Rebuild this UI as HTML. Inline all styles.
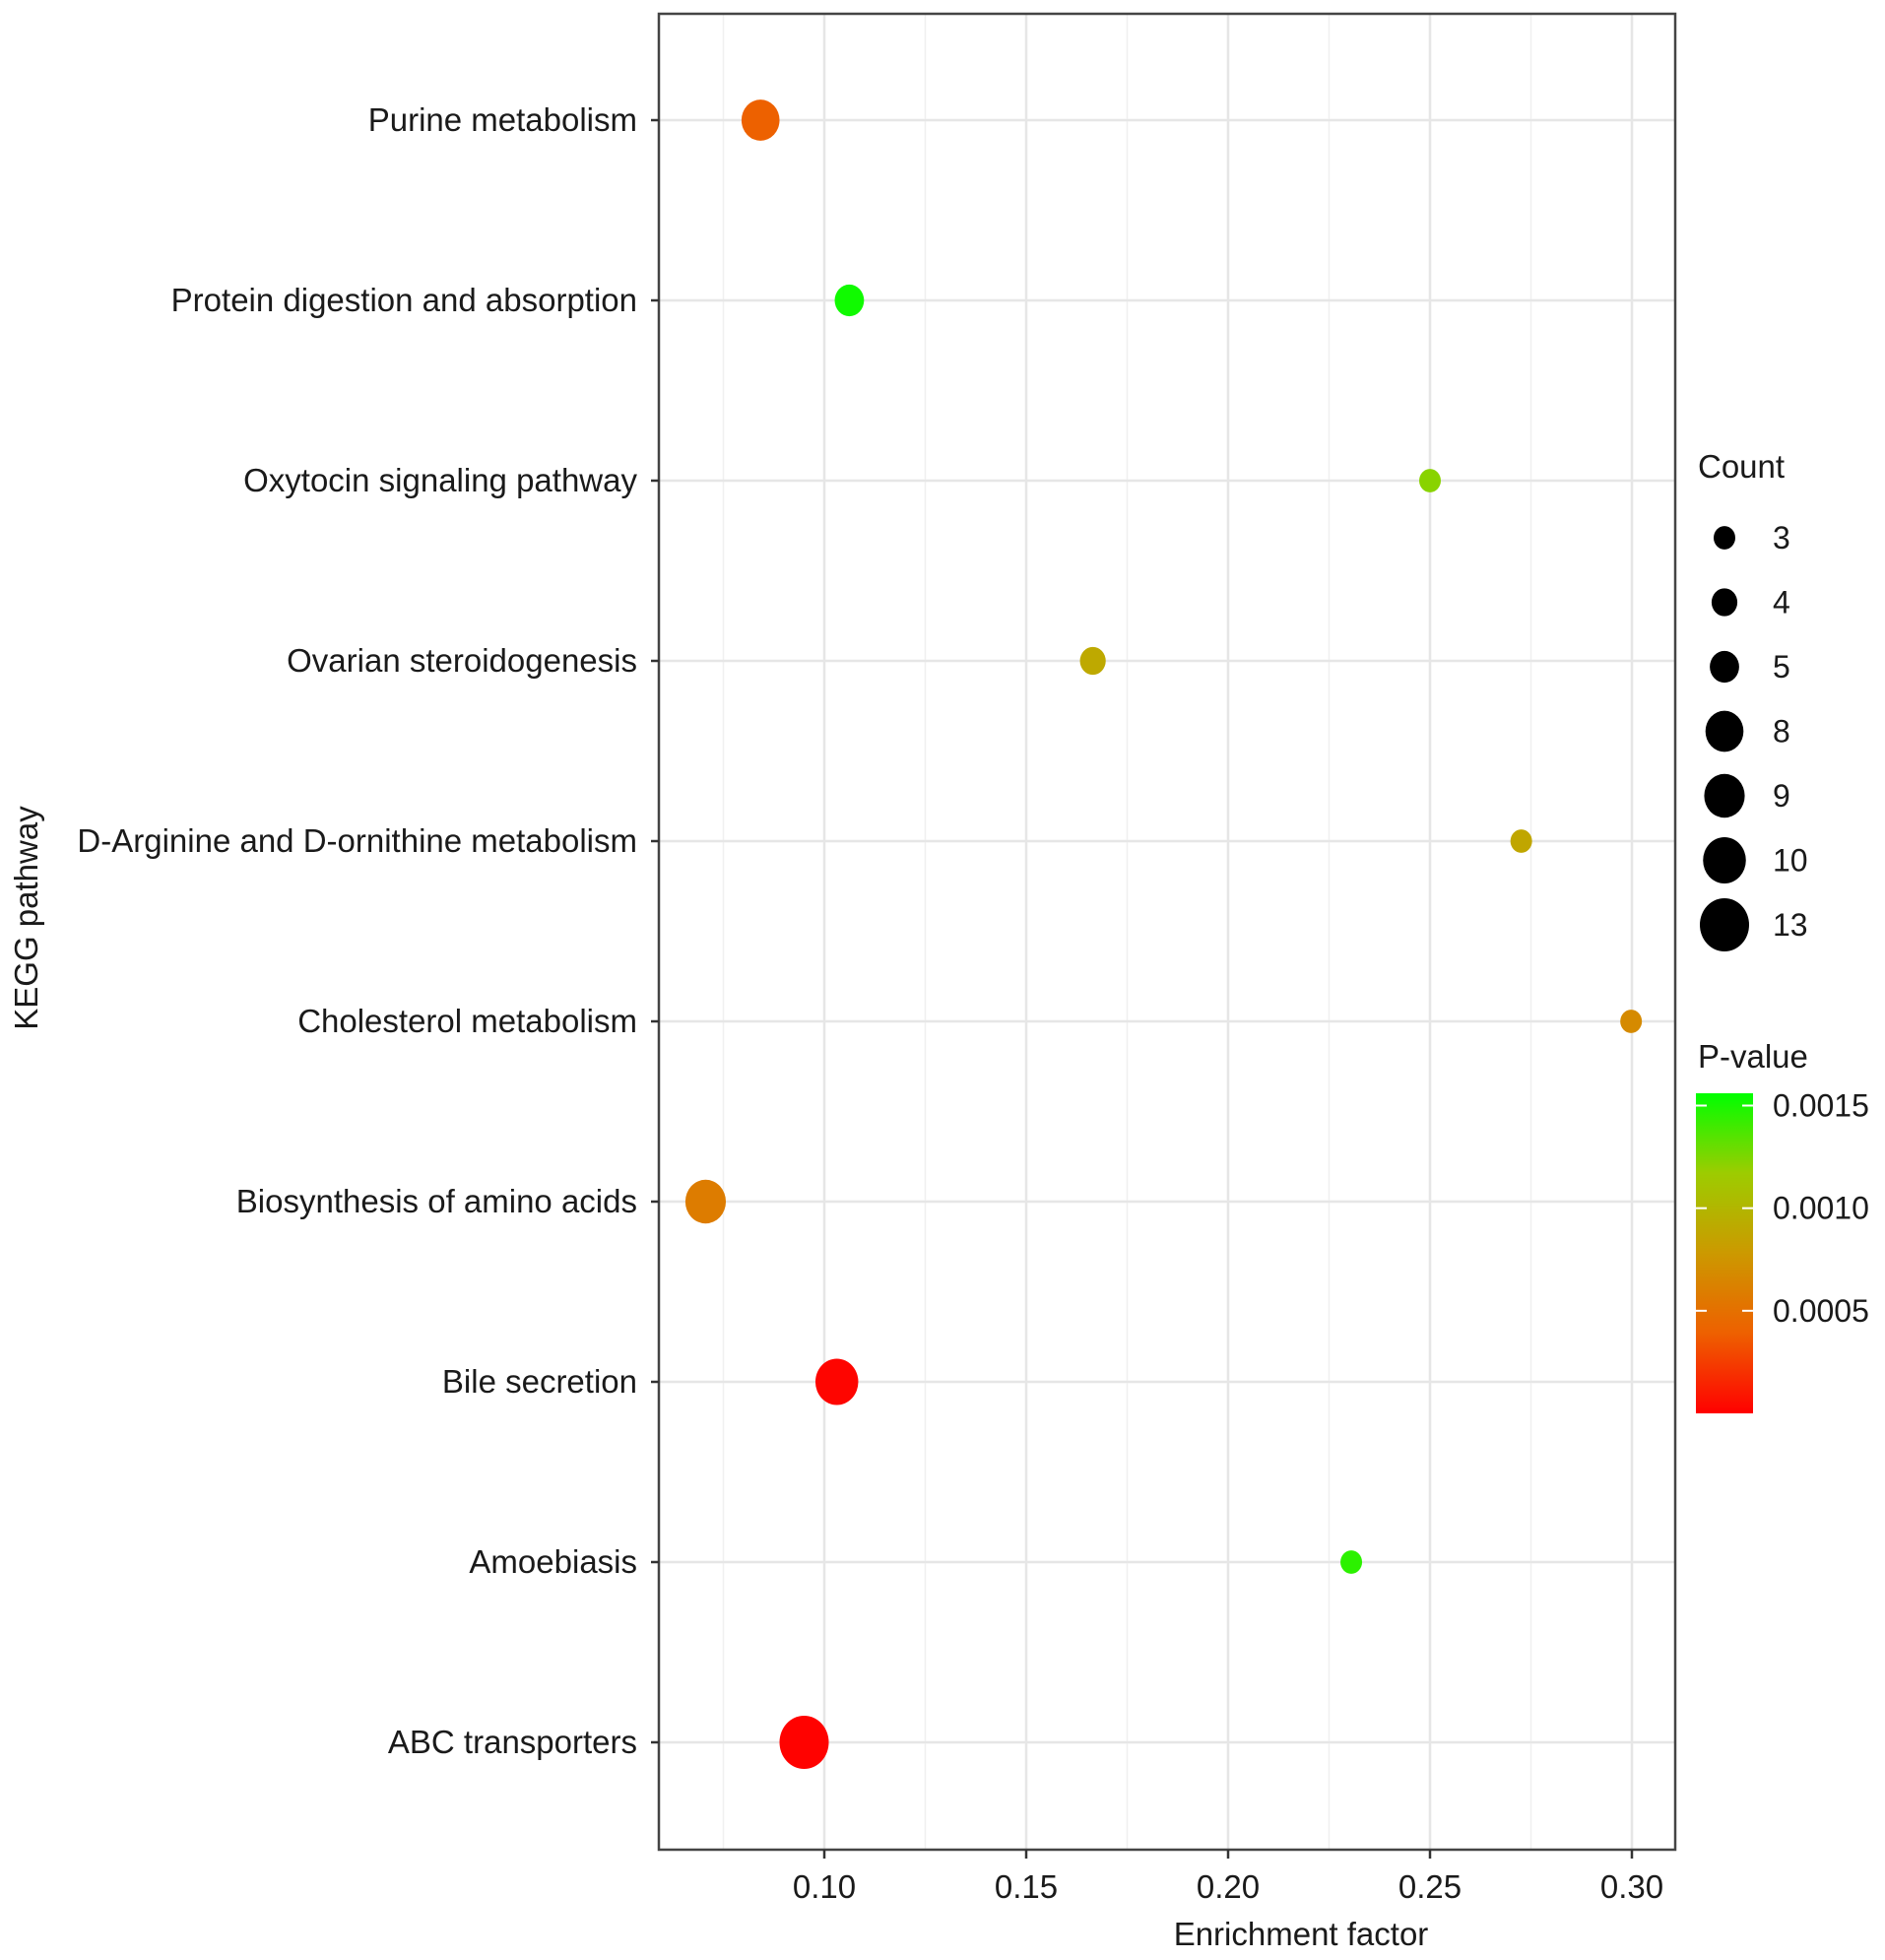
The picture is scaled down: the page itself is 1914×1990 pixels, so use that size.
<!DOCTYPE html>
<html><head><meta charset="utf-8"><style>
html,body{margin:0;padding:0;background:#fff;}
svg{display:block;font-family:"Liberation Sans",sans-serif;}
</style></head><body>
<svg id="chart" width="1914" height="1990" viewBox="0 0 1914 1990">
<defs>
<linearGradient id="pgrad" x1="0" y1="1" x2="0" y2="0">
<stop offset="0" stop-color="#ff0000"/><stop offset="0.25" stop-color="#ee6000"/><stop offset="0.5" stop-color="#cc9900"/><stop offset="0.75" stop-color="#9dcc00"/><stop offset="1" stop-color="#00ff00"/>
</linearGradient>
</defs>
<g id="grid"></g>
<g id="marks"></g>
<g id="axes"></g>
<g id="legend"></g>
</svg>
<script>
const pathways = ["Purine metabolism","Protein digestion and absorption","Oxytocin signaling pathway","Ovarian steroidogenesis","D-Arginine and D-ornithine metabolism","Cholesterol metabolism","Biosynthesis of amino acids","Bile secretion","Amoebiasis","ABC transporters"];
const enrichment = [0.0842,0.1062,0.250,0.1665,0.2726,0.2998,0.0706,0.1031,0.2305,0.0950];
const counts = [8,5,3,4,3,3,9,10,3,13];
const pvalues = [0.00040,0.00152,0.00122,0.00090,0.00088,0.00068,0.00058,0.00002,0.00145,0.00001];
const xTicks = [0.10,0.15,0.20,0.25,0.30];
const xTickLabels = ["0.10","0.15","0.20","0.25","0.30"];
const sizeLegend = [3,4,5,8,9,10,13];
const pTicks = [0.0015,0.0010,0.0005];
const pTickLabels = ["0.0015","0.0010","0.0005"];

const NS="http://www.w3.org/2000/svg";
const L=669,R=1701,T=14,B=1878;
const x=v=>837+(v-0.10)*4100;
const y=i=>122+i*183;
const rad=c=>Math.sqrt(11*11+(c-3)/10*(25*25-11*11));
const pY=p=>1435-(p/0.00156)*325;
const stops=[[0,[255,0,0]],[0.25,[238,96,0]],[0.5,[204,153,0]],[0.75,[157,204,0]],[1,[0,255,0]]];
function col(p){let t=Math.max(0,Math.min(1,p/0.00156));for(let i=1;i<stops.length;i++){if(t<=stops[i][0]){const a=stops[i-1],b=stops[i];const f=(t-a[0])/(b[0]-a[0]);return "rgb("+a[1].map((v,k)=>Math.round(v+(b[1][k]-v)*f)).join(",")+")";}}return "rgb(0,255,0)";}
function mk(tag,attrs,parent,text){const e=document.createElementNS(NS,tag);for(const k in attrs)e.setAttribute(k,attrs[k]);if(text!==undefined)e.textContent=text;parent.appendChild(e);return e;}
const grid=document.getElementById('grid'),marks=document.getElementById('marks'),axes=document.getElementById('axes'),legend=document.getElementById('legend');
mk('rect',{x:L,y:T,width:R-L,height:B-T,fill:'#fff'},grid);
for(let v=0.075;v<0.31;v+=0.05){const g=mk('line',{x1:x(v),x2:x(v),y1:T,y2:B,stroke:'#f0f0f0','stroke-width':1.5},grid);

}
xTicks.forEach(v=>{const g=mk('line',{x1:x(v),x2:x(v),y1:T,y2:B,stroke:'#e6e6e6','stroke-width':2.5},grid);

});
pathways.forEach((p,i)=>{const g=mk('line',{x1:L,x2:R,y1:y(i),y2:y(i),stroke:'#e6e6e6','stroke-width':2.5},grid);

});
pathways.forEach((p,i)=>{const r=rad(counts[i]);
const c=mk('ellipse',{cx:x(enrichment[i]),cy:y(i),rx:r,ry:r*1.08,fill:col(pvalues[i])},marks);

});
const frame=mk('rect',{x:L,y:T,width:R-L,height:B-T,fill:'none',stroke:'#444','stroke-width':2.5},axes);


pathways.forEach((p,i)=>{mk('line',{x1:661,x2:L,y1:y(i),y2:y(i),stroke:'#333','stroke-width':2.5},axes);
const t=mk('text',{x:647,y:y(i)+11,'text-anchor':'end','font-size':33,fill:'#1a1a1a'},axes,p);

});
xTicks.forEach((v,i)=>{mk('line',{x1:x(v),x2:x(v),y1:B,y2:B+9,stroke:'#333','stroke-width':2.5},axes);
const t=mk('text',{x:x(v),y:1927,'text-anchor':'middle','font-size':33,fill:'#1a1a1a'},axes,xTickLabels[i]);

});
const xt=mk('text',{x:1321,y:1975,'text-anchor':'middle','font-size':33,fill:'#1a1a1a'},axes,'Enrichment factor');


const yt=mk('text',{x:0,y:0,'text-anchor':'middle','font-size':33,fill:'#1a1a1a',transform:'translate(38,932) rotate(-90)'},axes,'KEGG pathway');


const ct=mk('text',{x:1724,y:485,'font-size':33,fill:'#1a1a1a'},legend,'Count');


sizeLegend.forEach((c,i)=>{const cy=546+i*65.5;const r=rad(c);
const d=mk('ellipse',{cx:1751,cy:cy,rx:r,ry:r*1.08,fill:'#000'},legend);


const t=mk('text',{x:1800,y:cy+11,'font-size':32,fill:'#1a1a1a'},legend,String(c));

});
const pt=mk('text',{x:1724,y:1084,'font-size':33,fill:'#1a1a1a'},legend,'P-value');


const bar=mk('rect',{x:1722,y:1110,width:58,height:325,fill:'url(#pgrad)'},legend);


pTicks.forEach((p,i)=>{mk('line',{x1:1722,x2:1733,y1:pY(p),y2:pY(p),stroke:'#fff','stroke-width':2},legend);
mk('line',{x1:1769,x2:1780,y1:pY(p),y2:pY(p),stroke:'#fff','stroke-width':2},legend);
const t=mk('text',{x:1800,y:pY(p)+11,'font-size':32,fill:'#1a1a1a'},legend,pTickLabels[i]);

});
</script>
</body></html>
